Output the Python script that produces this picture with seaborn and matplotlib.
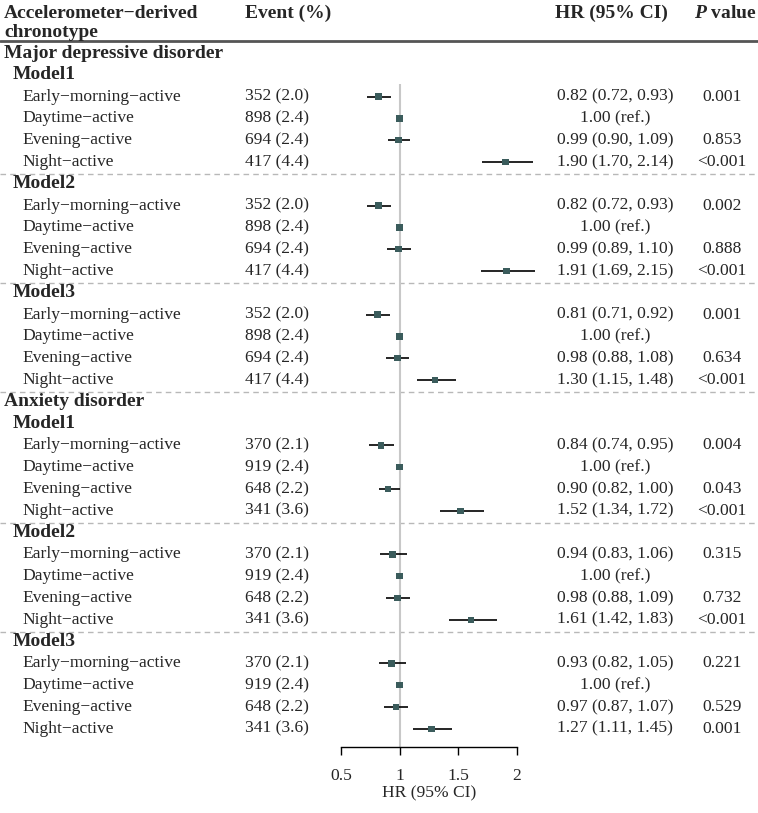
import numpy as np
import pandas as pd
import matplotlib
matplotlib.use("Agg")
import matplotlib.pyplot as plt
import matplotlib.transforms as mtransforms
import seaborn as sns

# ---- data ----
outcomes = ["Major depressive disorder", "Anxiety disorder"]
models = ["Model1", "Model2", "Model3"]
chronotypes = ["Early\u2212morning\u2212active", "Daytime\u2212active",
               "Evening\u2212active", "Night\u2212active"]

events = ["352 (2.0)", "898 (2.4)", "694 (2.4)", "417 (4.4)",
          "352 (2.0)", "898 (2.4)", "694 (2.4)", "417 (4.4)",
          "352 (2.0)", "898 (2.4)", "694 (2.4)", "417 (4.4)",
          "370 (2.1)", "919 (2.4)", "648 (2.2)", "341 (3.6)",
          "370 (2.1)", "919 (2.4)", "648 (2.2)", "341 (3.6)",
          "370 (2.1)", "919 (2.4)", "648 (2.2)", "341 (3.6)"]
hr = [0.82, 1.00, 0.99, 1.90,
      0.82, 1.00, 0.99, 1.91,
      0.81, 1.00, 0.98, 1.30,
      0.84, 1.00, 0.90, 1.52,
      0.94, 1.00, 0.98, 1.61,
      0.93, 1.00, 0.97, 1.27]
lower = [0.72, 1.00, 0.90, 1.70,
         0.72, 1.00, 0.89, 1.69,
         0.71, 1.00, 0.88, 1.15,
         0.74, 1.00, 0.82, 1.34,
         0.83, 1.00, 0.88, 1.42,
         0.82, 1.00, 0.87, 1.11]
upper = [0.93, 1.00, 1.09, 2.14,
         0.93, 1.00, 1.10, 2.15,
         0.92, 1.00, 1.08, 1.48,
         0.95, 1.00, 1.00, 1.72,
         1.06, 1.00, 1.09, 1.83,
         1.05, 1.00, 1.07, 1.45]
pvals = ["0.001", "", "0.853", "<0.001",
         "0.002", "", "0.888", "<0.001",
         "0.001", "", "0.634", "<0.001",
         "0.004", "", "0.043", "<0.001",
         "0.315", "", "0.732", "<0.001",
         "0.221", "", "0.529", "0.001"]

# build the table with row positions
rows = []
labels = []  # (row, text, kind)
r = 0
k = 0
for o in outcomes:
    labels.append((r, o, "outcome"))
    r += 1
    for m in models:
        labels.append((r, m, "model"))
        r += 1
        for c in chronotypes:
            rows.append({"row": r, "label": c, "event": events[k], "hr": hr[k],
                         "lo": lower[k], "hi": upper[k], "p": pvals[k]})
            r += 1
            k += 1
df = pd.DataFrame(rows)
n_rows = r

sns.set_theme(style="white")
plt.rcParams['font.family'] = ['Liberation Serif', 'DejaVu Serif']
plt.rcParams['mathtext.fontset'] = 'custom'
plt.rcParams['mathtext.it'] = 'Liberation Serif:italic:bold'
plt.rcParams['mathtext.rm'] = 'Liberation Serif:bold'
FS = 12.6   # body text
FB = 14     # bold headings

W, H = 758, 813
fig = plt.figure(figsize=(W / 100, H / 100), dpi=100)

# axes spans the full width; x scale set so 0.5 -> px 341 and 2 -> px 517
ppu = (517 - 341) / 1.5
x0 = 0.5 - 341 / ppu
x1 = x0 + W / ppu
row_px0 = 53.0
row_step = 21.8
axis_px = 747.0
ax = fig.add_axes([0, 1 - axis_px / H, 1, axis_px / H])
ax.set_xlim(x0, x1)
ax.set_ylim(n_rows - 1 + (axis_px - (row_px0 + row_step * (n_rows - 1))) / row_step,
            -row_px0 / row_step)

# reference line
ax.vlines(1, 1.4, ax.get_ylim()[0], color="#c8c8c8", lw=1.5, zorder=1)

# CI lines and points
ax.hlines(df["row"], df["lo"], df["hi"], color="black", lw=1.2, zorder=2)
sns.scatterplot(data=df, x="hr", y="row", marker="s", s=22, color="#3b5c5c",
                edgecolor="none", ax=ax, zorder=3, legend=False)

# separators
for yy in [5.55, 10.55, 15.55, 21.55, 26.55]:
    ax.plot([x0, x1], [yy, yy], color="#b8b8b8", lw=1, ls=(0, (4, 3)), zorder=0)
ax.plot([x0, x1], [-0.55, -0.55], color="#555555", lw=2, zorder=0)

tr = mtransforms.blended_transform_factory(fig.transFigure, ax.transData)

def fx(px):
    return px / W

# header
ax.text(fx(4), -1.8, "Accelerometer\u2212derived", transform=tr, fontsize=FB,
        fontweight="bold", va="center", ha="left")
ax.text(fx(4), -0.92, "chronotype", transform=tr, fontsize=FB,
        fontweight="bold", va="center", ha="left")
ax.text(fx(245), -1.8, "Event (%)", transform=tr, fontsize=FB,
        fontweight="bold", va="center", ha="left")
ax.text(fx(611), -1.8, "HR (95% CI)", transform=tr, fontsize=FB,
        fontweight="bold", va="center", ha="center")
ax.text(fx(725), -1.8, r"$P$ value", transform=tr, fontsize=FB,
        fontweight="bold", va="center", ha="center")

for row, txt, kind in labels:
    xpos = 4 if kind == "outcome" else 13
    ax.text(fx(xpos), row, txt, transform=tr, fontsize=FB, fontweight="bold",
            va="center", ha="left")

for _, d in df.iterrows():
    ax.text(fx(22), d["row"], d["label"], transform=tr, fontsize=FS,
            va="center", ha="left")
    ax.text(fx(245), d["row"], d["event"], transform=tr, fontsize=FS,
            va="center", ha="left")
    if d["p"] == "":
        hr_txt = "%.2f (ref.)" % d["hr"]
    else:
        hr_txt = "%.2f (%.2f, %.2f)" % (d["hr"], d["lo"], d["hi"])
    ax.text(fx(615), d["row"], hr_txt, transform=tr, fontsize=FS,
            va="center", ha="center")
    ax.text(fx(722), d["row"], d["p"], transform=tr, fontsize=FS,
            va="center", ha="center")

# x axis
for s in ["top", "right", "left"]:
    ax.spines[s].set_visible(False)
ax.spines["bottom"].set_bounds(0.5, 2)
ax.spines["bottom"].set_color("black")
ax.spines["bottom"].set_linewidth(1)
ax.set_xticks([0.5, 1, 1.5, 2])
ax.set_xticklabels(["0.5", "1", "1.5", "2"])
ax.tick_params(axis="x", bottom=True, length=6, width=1, color="black",
               labelsize=FS, pad=9)
ax.set_yticks([])
ax.set_ylabel("")
ax.set_xlabel("HR (95% CI)", fontsize=FS, labelpad=1)
ax.xaxis.label.set_x(429 / W)

fig.savefig("out.png", dpi=100)
